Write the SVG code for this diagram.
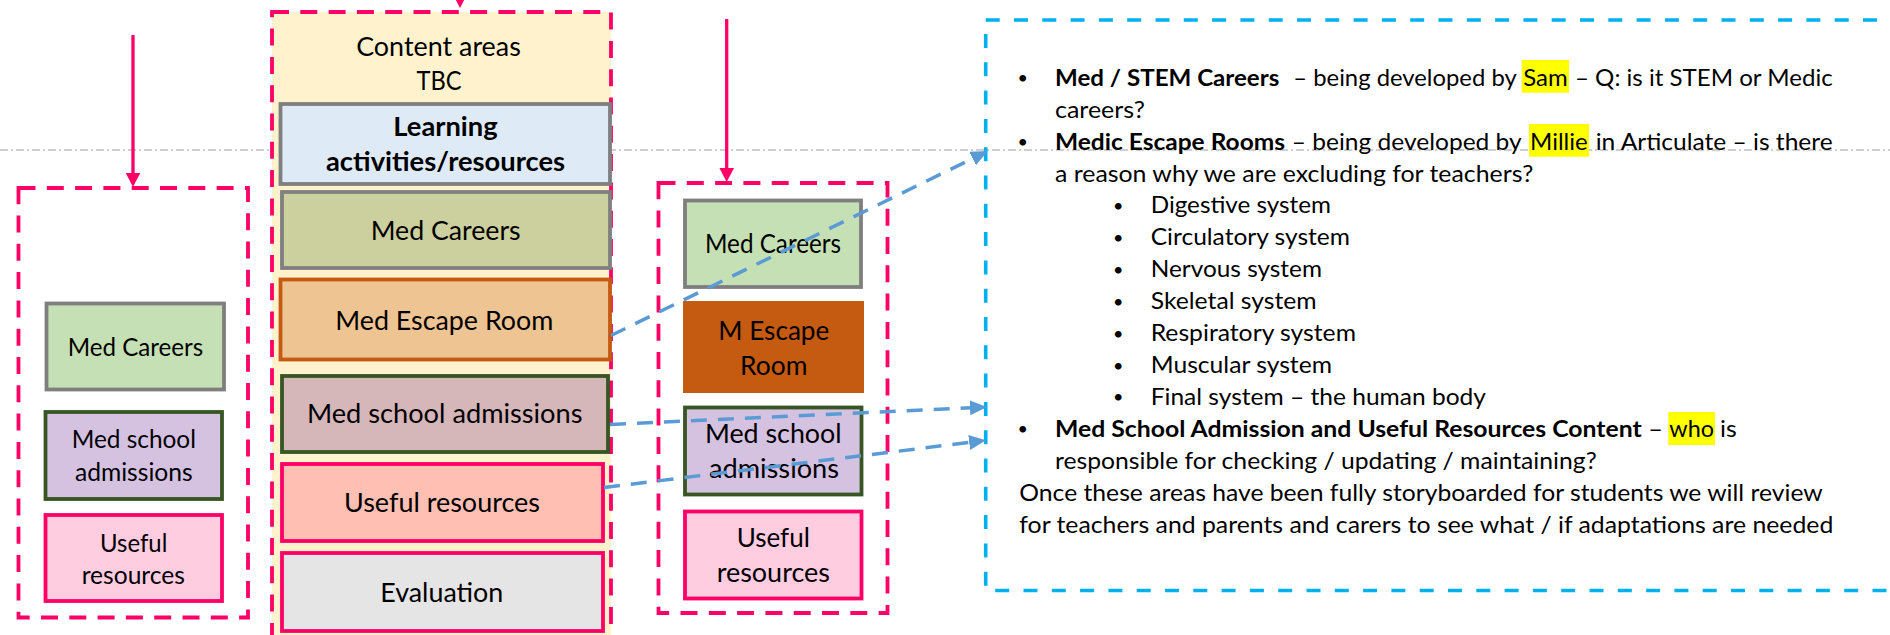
<svg xmlns="http://www.w3.org/2000/svg" width="1890" height="635" viewBox="0 0 1890 635">
<defs>
  <marker id="pinkHead" markerUnits="userSpaceOnUse" markerWidth="15" markerHeight="16" refX="7" refY="7.3" orient="auto">
    <path d="M0,0 L14,7.3 L0,14.6 z" fill="#FF0066"/>
  </marker>
  <marker id="blueHead" markerUnits="userSpaceOnUse" markerWidth="18" markerHeight="16" refX="6" refY="7.5" orient="auto">
    <path d="M0,0 L17,7.5 L0,15 z" fill="#5B9BD5"/>
  </marker>
</defs>
<style>
  text{font-family:Lato,"Open Sans","Liberation Sans",sans-serif;fill:#000}
  .mid{font-size:27.5px;text-anchor:middle}
  .lft{font-size:25px;text-anchor:middle}
  .rgt{font-size:26.5px;text-anchor:middle}
  .b{font-weight:bold}
  .note{font-size:23.5px}
  .bul{font-size:18px;text-anchor:middle}
  .pinkdash{fill:none;stroke:#FF0066;stroke-width:3.8;stroke-dasharray:17 11.3}
  .box{stroke-width:3.8}
  .gray{stroke:#7F7F7F}
  .green{stroke:#375623}
  .pink{stroke:#FF0066}
  .orange{stroke:#C55A11}
  .blueconn{fill:none;stroke:#5B9BD5;stroke-width:3.5;stroke-dasharray:16 11;marker-end:url(#blueHead)}
  .pinkconn{fill:none;stroke:#FF0066;stroke-width:3.3;marker-end:url(#pinkHead)}
  .hl{fill:#FFFF00}
</style>
<rect x="0" y="0" width="1890" height="635" fill="#FFFFFF"/>
<line x1="0" y1="150" x2="1890" y2="150" stroke="#C0C0C0" stroke-width="1.3" stroke-dasharray="8 3 2 3"/>

<g id="left-column">
  <rect class="pinkdash" x="18.5" y="188" width="229.5" height="429.5"/>
</g>
<g id="left-med-careers">
  <rect class="box gray" x="46.5" y="303.5" width="177.5" height="86" fill="#C5E0B4"/>
  <text class="lft" x="135.5" y="356" textLength="135.6" lengthAdjust="spacingAndGlyphs">Med Careers</text>
</g>
<g id="left-med-school-admissions">
  <rect class="box green" x="45.5" y="412" width="176.5" height="87" fill="#D5C2E1"/>
  <text class="lft" x="133.8" y="448.3" textLength="124.3" lengthAdjust="spacingAndGlyphs">Med school</text>
  <text class="lft" x="133.8" y="480.7" textLength="117.7" lengthAdjust="spacingAndGlyphs">admissions</text>
</g>
<g id="left-useful-resources">
  <rect class="box pink" x="45.5" y="515" width="176.5" height="86" fill="#FFCCE0"/>
  <text class="lft" x="133.7" y="551.7" textLength="67.3" lengthAdjust="spacingAndGlyphs">Useful</text>
  <text class="lft" x="133.3" y="584" textLength="103.3" lengthAdjust="spacingAndGlyphs">resources</text>
</g>

<g id="content-areas">
  <rect x="272" y="12" width="339" height="640" fill="#FFF2CC"/>
  <rect class="pinkdash" x="272" y="12" width="339" height="640"/>
  <text class="mid" x="438.5" y="55.7" textLength="164.7" lengthAdjust="spacingAndGlyphs">Content areas</text>
  <text class="mid" x="439" y="90" textLength="45" lengthAdjust="spacingAndGlyphs">TBC</text>
</g>
<g id="learning-activities">
  <rect class="box gray" x="280.5" y="104" width="329.5" height="80" fill="#DEEBF7"/>
  <text class="mid b" x="445.5" y="136" textLength="104.3" lengthAdjust="spacingAndGlyphs">Learning</text>
  <text class="mid b" x="445.5" y="170.7" textLength="239" lengthAdjust="spacingAndGlyphs">activities/resources</text>
</g>
<g id="mid-med-careers">
  <rect class="box gray" x="282" y="192" width="328" height="76" fill="#CCCF9E"/>
  <text class="mid" x="445.7" y="240" textLength="150" lengthAdjust="spacingAndGlyphs">Med Careers</text>
</g>
<g id="mid-med-escape-room">
  <rect class="box orange" x="280.5" y="279.5" width="329.5" height="80" fill="#EEC493"/>
  <text class="mid" x="444.3" y="330" textLength="218" lengthAdjust="spacingAndGlyphs">Med Escape Room</text>
</g>
<g id="mid-med-school-admissions">
  <rect class="box green" x="282" y="376" width="326" height="76" fill="#D5B6B9"/>
  <text class="mid" x="444.7" y="423.3" textLength="275.5" lengthAdjust="spacingAndGlyphs">Med school admissions</text>
</g>
<g id="mid-useful-resources">
  <rect class="box pink" x="282" y="464" width="321" height="77" fill="#FFBFB3"/>
  <text class="mid" x="442" y="511.7" textLength="196" lengthAdjust="spacingAndGlyphs">Useful resources</text>
</g>
<g id="mid-evaluation">
  <rect class="box pink" x="282" y="553" width="321" height="78" fill="#E5E5E5"/>
  <text class="mid" x="441.8" y="601.7" textLength="123" lengthAdjust="spacingAndGlyphs">Evaluation</text>
</g>

<g id="right-column">
  <rect class="pinkdash" x="658.5" y="183" width="229" height="430"/>
</g>
<g id="right-med-careers">
  <rect class="box gray" x="685" y="200.5" width="176" height="86.5" fill="#C5E0B4"/>
  <text class="rgt" x="773" y="252.7" textLength="136" lengthAdjust="spacingAndGlyphs">Med Careers</text>
</g>
<g id="right-m-escape-room">
  <rect x="683" y="301" width="181" height="92" fill="#C55A11"/>
  <text class="rgt" x="773.8" y="340" textLength="111" lengthAdjust="spacingAndGlyphs">M Escape</text>
  <text class="rgt" x="773.7" y="375" textLength="67.3" lengthAdjust="spacingAndGlyphs">Room</text>
</g>
<g id="right-med-school-admissions">
  <rect class="box green" x="685" y="407.5" width="176.5" height="87" fill="#D5C2E1"/>
  <text class="rgt" x="773.3" y="443.3" textLength="136.7" lengthAdjust="spacingAndGlyphs">Med school</text>
  <text class="rgt" x="774" y="478.3" textLength="130" lengthAdjust="spacingAndGlyphs">admissions</text>
</g>
<g id="right-useful-resources">
  <rect class="box pink" x="685" y="511.5" width="176.5" height="87" fill="#FFCCE0"/>
  <text class="rgt" x="773.3" y="546.7" textLength="73.3" lengthAdjust="spacingAndGlyphs">Useful</text>
  <text class="rgt" x="773.3" y="581.7" textLength="113.3" lengthAdjust="spacingAndGlyphs">resources</text>
</g>

<g id="notes">
  <rect x="985.7" y="20" width="1000" height="570.5" fill="none" stroke="#00B0F0" stroke-width="3.6" stroke-dasharray="14 14.3"/>
  <rect class="hl" x="1521.7" y="60" width="47.3" height="32.7"/>
  <rect class="hl" x="1529" y="124" width="60" height="32.7"/>
  <rect class="hl" x="1668.3" y="412" width="46.7" height="33"/>

  <text class="bul" x="1022.7" y="84">•</text>
  <text class="note b" x="1055" y="85.7" textLength="224.3" lengthAdjust="spacingAndGlyphs">Med / STEM Careers</text>
  <text class="note" x="1293.3" y="85.7" textLength="223.4" lengthAdjust="spacingAndGlyphs">– being developed by</text>
  <text class="note" x="1523.3" y="85.7" textLength="44.4" lengthAdjust="spacingAndGlyphs">Sam</text>
  <text class="note" x="1575" y="85.7" textLength="257.7" lengthAdjust="spacingAndGlyphs">– Q: is it STEM or Medic</text>
  <text class="note" x="1055" y="117.6" textLength="90" lengthAdjust="spacingAndGlyphs">careers?</text>

  <text class="bul" x="1022.7" y="148">•</text>
  <text class="note b" x="1055" y="149.6" textLength="230" lengthAdjust="spacingAndGlyphs">Medic Escape Rooms</text>
  <text class="note" x="1291.7" y="149.6" textLength="230" lengthAdjust="spacingAndGlyphs">– being developed by</text>
  <text class="note" x="1530" y="149.6" textLength="57.7" lengthAdjust="spacingAndGlyphs">Millie</text>
  <text class="note" x="1595.7" y="149.6" textLength="237" lengthAdjust="spacingAndGlyphs">in Articulate – is there</text>
  <text class="note" x="1055" y="181.5" textLength="478.3" lengthAdjust="spacingAndGlyphs">a reason why we are excluding for teachers?</text>

  <text class="bul" x="1118.3" y="211.8">•</text>
  <text class="note" x="1150.7" y="213.4" textLength="180.3" lengthAdjust="spacingAndGlyphs">Digestive system</text>
  <text class="bul" x="1118.3" y="243.8">•</text>
  <text class="note" x="1150.7" y="245.4" textLength="199.3" lengthAdjust="spacingAndGlyphs">Circulatory system</text>
  <text class="bul" x="1118.3" y="275.7">•</text>
  <text class="note" x="1150.7" y="277.3" textLength="171.3" lengthAdjust="spacingAndGlyphs">Nervous system</text>
  <text class="bul" x="1118.3" y="307.6">•</text>
  <text class="note" x="1150.7" y="309.2" textLength="166" lengthAdjust="spacingAndGlyphs">Skeletal system</text>
  <text class="bul" x="1118.3" y="339.5">•</text>
  <text class="note" x="1150.7" y="341.1" textLength="205.3" lengthAdjust="spacingAndGlyphs">Respiratory system</text>
  <text class="bul" x="1118.3" y="371.5">•</text>
  <text class="note" x="1150.7" y="373.1" textLength="181.3" lengthAdjust="spacingAndGlyphs">Muscular system</text>
  <text class="bul" x="1118.3" y="403.4">•</text>
  <text class="note" x="1150.7" y="405" textLength="335.3" lengthAdjust="spacingAndGlyphs">Final system – the human body</text>

  <text class="bul" x="1022.7" y="435.3">•</text>
  <text class="note b" x="1055" y="436.9" textLength="586.7" lengthAdjust="spacingAndGlyphs">Med School Admission and Useful Resources Content</text>
  <text class="note" x="1648.3" y="436.9" textLength="14.7" lengthAdjust="spacingAndGlyphs">–</text>
  <text class="note" x="1669.3" y="436.9" textLength="44.7" lengthAdjust="spacingAndGlyphs">who</text>
  <text class="note" x="1720" y="436.9" textLength="16.7" lengthAdjust="spacingAndGlyphs">is</text>
  <text class="note" x="1055" y="468.9" textLength="541.7" lengthAdjust="spacingAndGlyphs">responsible for checking / updating / maintaining?</text>
  <text class="note" x="1019.3" y="500.8" textLength="803.4" lengthAdjust="spacingAndGlyphs">Once these areas have been fully storyboarded for students we will review</text>
  <text class="note" x="1019.3" y="532.7" textLength="814" lengthAdjust="spacingAndGlyphs">for teachers and parents and carers to see what / if adaptations are needed</text>
</g>

<g id="connectors">
  <line class="pinkconn" x1="133" y1="35" x2="133" y2="180"/>
  <line class="pinkconn" x1="460" y1="-25" x2="460" y2="1"/>
  <line class="pinkconn" x1="726.7" y1="19" x2="726.7" y2="175"/>
  <line class="blueconn" x1="611" y1="335.5" x2="978" y2="155.9"/>
  <line class="blueconn" x1="610" y1="424.5" x2="976" y2="407.5"/>
  <line class="blueconn" x1="604" y1="487.5" x2="975.1" y2="441.7"/>
</g>
</svg>
